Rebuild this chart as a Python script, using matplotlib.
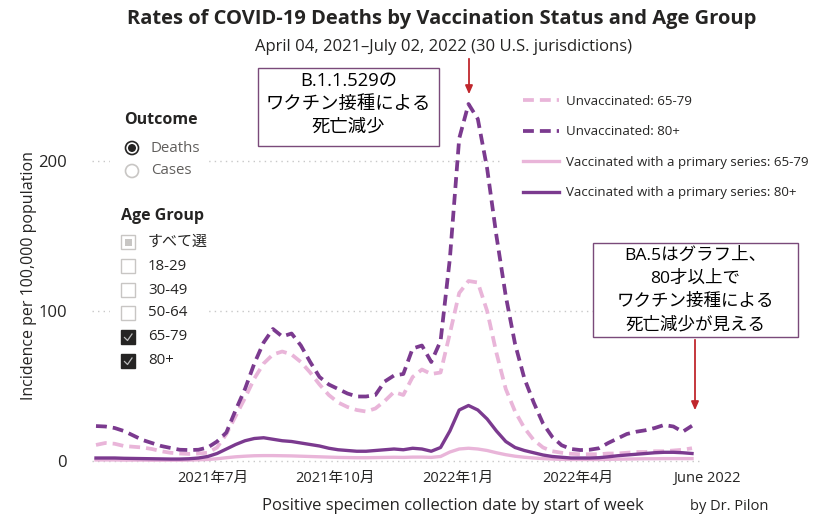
import numpy as np
import pandas as pd
import matplotlib
matplotlib.use("Agg")
import matplotlib.pyplot as plt
import matplotlib.transforms as mtransforms
from matplotlib.patches import Rectangle, Circle

plt.rcParams['font.family'] = ['Open Sans', 'Noto Sans CJK JP', 'DejaVu Sans']

# ---------------- data ----------------
weeks = pd.date_range('2021-04-04', periods=65, freq='7D')

unvax_65_79 = [10.7, 12, 11.5, 10, 9.5, 9, 8, 6.5, 5.5, 5, 4.7, 5, 5.5, 9, 18, 30, 42, 55, 65, 71,
               73, 71, 66, 59, 51, 44, 39, 36, 34, 33, 35, 40, 46, 44, 56, 61, 58, 59, 85, 112,
               120, 119, 100, 72, 48, 33, 22, 14, 9, 6.5, 5.5, 4.8, 4.5, 4.5, 4.5, 5, 5, 5.5, 6, 6,
               6.5, 6.5, 7, 7.5, 8.5]
unvax_80 = [23.3, 23, 22, 20, 17, 14, 12, 10, 8.7, 7.5, 7.3, 7.5, 9, 13, 19, 34, 48, 65, 79, 88,
            83, 85, 77, 66, 56, 51, 48, 45, 43, 43, 44, 53, 57, 58, 75, 77, 66, 80, 135, 215,
            238, 228, 195, 150, 110, 78, 55, 39, 25, 16, 10.5, 8, 7.3, 7.5, 8.5, 12, 15, 18, 19.5, 20.5,
            22, 24, 23, 19.5, 23.5]
vax_65_79 = [0.7, 0.7, 0.7, 0.6, 0.6, 0.6, 0.5, 0.5, 0.5, 0.5, 0.6, 0.8, 1.0, 1.5, 2.2, 2.8, 3.2, 3.5, 3.6, 3.6,
             3.5, 3.4, 3.2, 3.0, 2.8, 2.6, 2.4, 2.3, 2.2, 2.2, 2.3, 2.4, 2.5, 2.4, 2.6, 2.6, 2.4, 3.0, 6.0, 8.0,
             8.5, 8.0, 7.0, 5.5, 4.2, 3.2, 2.5, 2.0, 1.6, 1.3, 1.1, 1.0, 1.0, 1.0, 1.0, 1.1, 1.2, 1.3, 1.4, 1.5,
             1.5, 1.6, 1.6, 1.6, 1.6]
vax_80 = [2, 2, 2, 1.8, 1.7, 1.6, 1.5, 1.4, 1.3, 1.3, 1.5, 2, 3, 5, 8, 11, 13.5, 15, 15.5, 14.5,
          13.5, 13, 12, 11, 10, 8.5, 7.5, 7, 6.5, 6.5, 7, 7.5, 8, 7.5, 8.5, 8, 6.5, 9, 20, 34,
          37, 34, 28, 20, 13, 9, 7, 5.5, 4, 3, 2.5, 2, 2, 2, 2.2, 2.8, 3.5, 4, 4.5, 5,
          5.5, 5.8, 5.8, 5.5, 5]

series_labels = ['Unvaccinated: 65-79', 'Unvaccinated: 80+',
                 'Vaccinated with a primary series: 65-79', 'Vaccinated with a primary series: 80+']

tick_dates = ['2021-07-01', '2021-10-01', '2022-01-01', '2022-04-01', '2022-07-02']
tick_labels = ['2021年7月', '2021年10月', '2022年1月', '2022年4月', 'June 2022']

y_ticks = [0, 100, 200]

age_groups = ['すべて選', '18-29', '30-49', '50-64', '65-79', '80+']
age_checked = [None, False, False, False, True, True]
outcomes = ['Deaths', 'Cases']

title = 'Rates of COVID-19 Deaths by Vaccination Status and Age Group'
subtitle = 'April 04, 2021\u2013July 02, 2022 (30 U.S. jurisdictions)'
note1 = ['B.1.1.529の', 'ワクチン接種による', '死亡減少']
note2 = ['BA.5はグラフ上、', '80才以上で', 'ワクチン接種による', '死亡減少が見える']

# ---------------- style ----------------
DARK = '#7b3a8f'
LIGHT = '#e9b5d9'
TXT = '#252423'
RED = '#c0272d'

W, H = 826, 526
fig = plt.figure(figsize=(W / 100, H / 100), dpi=100)

def fx(x):
    return x / W

def fy(y):
    return 1 - y / H

# main axes: left 92px, right 700px, top 95px, bottom 464px
ax = fig.add_axes([fx(92), fy(464), (700 - 92) / W, (464 - 95) / H])
ax.set_facecolor('none')

dash = (0, (2.9, 1.6))
l1, = ax.plot(weeks, unvax_65_79, color=LIGHT, lw=2.7, ls=dash, label=series_labels[0], zorder=3)
l2, = ax.plot(weeks, unvax_80, color=DARK, lw=2.7, ls=dash, label=series_labels[1], zorder=4)
l3, = ax.plot(weeks, vax_65_79, color=LIGHT, lw=2.4, label=series_labels[2], zorder=3)
l4, = ax.plot(weeks, vax_80, color=DARK, lw=2.4, label=series_labels[3], zorder=4)

for s in ax.spines.values():
    s.set_visible(False)
ax.set_yticks(y_ticks)
ax.set_yticklabels([str(v) for v in y_ticks], fontsize=12, color=TXT)
ax.set_xticks(pd.to_datetime(tick_dates))
ax.set_xticklabels(tick_labels, fontsize=10.5, color=TXT)
ax.set_xlim(weeks[0] - pd.Timedelta(days=3), weeks[-1] + pd.Timedelta(days=6))
ax.set_ylim(-2, 244)
ax.tick_params(length=0, axis='y', pad=18)
ax.tick_params(length=0, axis='x', pad=5)
ax.grid(axis='y', color='#c8c8c8', lw=1, ls=(0, (1, 3)))
ax.grid(axis='x', visible=False)
ax.set_axisbelow(True)

# shift last tick label ("June 2022") a little to the right
last = ax.get_xticklabels()[-1]
last.set_transform(last.get_transform() + mtransforms.ScaledTranslation(7 / 100, 0, fig.dpi_scale_trans))

ax.set_xlabel('Positive specimen collection date by start of week', fontsize=12, color=TXT)
ax.xaxis.set_label_coords((453 - 92) / 608, -(498 - 464) / 369)
ax.set_ylabel('Incidence per 100,000 population', fontsize=11.5, color=TXT)
ax.yaxis.set_label_coords(-(92 - 37) / 608, 0.51)

# ---------------- overlay in pixel coords ----------------
ov = fig.add_axes([0, 0, 1, 1])
ov.set_xlim(0, W)
ov.set_ylim(H, 0)
ov.axis('off')
ov.patch.set_alpha(0)

fig.text(fx(442), fy(19), title, ha='center', va='center', fontsize=14.5, fontweight='bold', color=TXT)
fig.text(fx(444), fy(47), subtitle, ha='center', va='center', fontsize=12, color=TXT)

# white panels (cover grid)
ov.add_patch(Rectangle((110, 95), 98, 280, facecolor='white', edgecolor='none', zorder=1))
ov.add_patch(Rectangle((503, 85), 323, 120, facecolor='white', edgecolor='none', zorder=1))

# Outcome slicer
ov.text(124, 120, 'Outcome', fontsize=11.5, fontweight='bold', color=TXT, va='center', ha='left', zorder=5)
ov.add_patch(Circle((132, 148), 6.5, facecolor='white', edgecolor=TXT, lw=1.2, zorder=5))
ov.add_patch(Circle((132, 148), 4.0, facecolor=TXT, edgecolor='none', zorder=6))
ov.add_patch(Circle((132, 171), 6.5, facecolor='white', edgecolor='#c8c6c4', lw=1.2, zorder=5))
for yy, lab in zip([148, 171], outcomes):
    ov.text(151, yy, lab, fontsize=10.8, color='#605e5c', va='center', ha='left', zorder=5)

# Age group slicer
ov.text(121, 216, 'Age Group', fontsize=11.5, fontweight='bold', color=TXT, va='center', ha='left', zorder=5)
ys = [242, 266, 290, 313, 337, 361]
for yy, lab, chk in zip(ys, age_groups, age_checked):
    if chk:
        ov.add_patch(Rectangle((121, yy - 7), 14, 14, facecolor=TXT, edgecolor=TXT, lw=1, zorder=5))
        ov.plot([124.5, 127.5, 132], [yy + 0.5, yy + 3.5, yy - 3], color='#bbbbbb', lw=0.9, zorder=6)
    else:
        ov.add_patch(Rectangle((121, yy - 7), 14, 14, facecolor='white', edgecolor='#c8c6c4', lw=1, zorder=5))
        if chk is None:
            ov.add_patch(Rectangle((124.5, yy - 3.5), 7, 7, facecolor='#c8c6c4', edgecolor='none', zorder=6))
    ov.text(148, yy, lab, fontsize=10.8, color=TXT, va='center', ha='left', zorder=5)

# annotation boxes
ov.add_patch(Rectangle((258, 68), 181, 78, facecolor='white', edgecolor='#7a4a7a', lw=1, zorder=5))
for yy, t in zip([81, 104, 127], note1):
    ov.text(348.5, yy, t, fontsize=13.2, color='black', ha='center', va='center', zorder=6)

ov.add_patch(Rectangle((593, 243), 205, 94, facecolor='white', edgecolor='#7a4a7a', lw=1, zorder=5))
for yy, t in zip([256, 279, 302, 325], note2):
    ov.text(695.5, yy, t, fontsize=12.6, color='black', ha='center', va='center', zorder=6)

# red arrows
ov.annotate('', xy=(469, 97), xytext=(469, 56),
            arrowprops=dict(arrowstyle='-|>,head_length=0.5,head_width=0.22', color=RED, lw=1.3), zorder=6)
ov.annotate('', xy=(695, 413), xytext=(695, 337),
            arrowprops=dict(arrowstyle='-|>,head_length=0.5,head_width=0.22', color=RED, lw=1.3), zorder=6)

# legend
leg = ov.legend(handles=[l1, l2, l3, l4], loc='upper left', bbox_to_anchor=(fx(523), fy(95)),
                bbox_transform=fig.transFigure, frameon=False, fontsize=9.5, handlelength=2.75,
                handletextpad=0.5, labelspacing=1.32, borderpad=0, borderaxespad=0)
for t in leg.get_texts():
    t.set_color(TXT)

fig.text(fx(690), fy(507), 'by Dr. Pilon', fontsize=10.5, color=TXT, ha='left', va='center')

fig.savefig('out.png', dpi=100, facecolor='white')
